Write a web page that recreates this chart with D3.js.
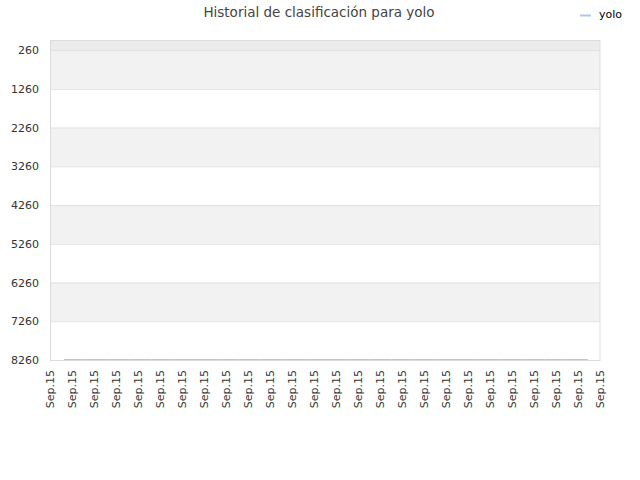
<!DOCTYPE html>
<html><head><meta charset="utf-8">
<script src="https://cdn.jsdelivr.net/npm/d3@7"></script>
<style>body{margin:0;background:#fff}svg{display:block;font-family:"DejaVu Sans",sans-serif}</style>
</head><body>
<script>
const title = "Historial de clasificación para yolo";
const seriesName = "yolo";
const xLabels = Array(26).fill("Sep.15");
const yTicks = [260,1260,2260,3260,4260,5260,6260,7260,8260];
const rankValues = [8235,8235,8235,8235,8235,8235,8235,8235,8235,8235,8235,8235,8235,8235,8235,8235,8235,8235,8235,8235,8235,8235,8235,8235,8235];

const W=640,H=480, L=50,R=600,T=40,B=360;
const svg=d3.select("body").append("svg").attr("width",W).attr("height",H);
const y=d3.scaleLinear().domain([0,8260]).range([T,B]);
const xl=d3.scalePoint().domain(d3.range(xLabels.length)).range([L,R]);
const xd=d3.scaleLinear().domain([0,rankValues.length-1]).range([L+14,R-12]);

// bands
const bands=[[0,260,"#ececec"]];
for(let i=0;i<yTicks.length-1;i++) bands.push([yTicks[i],yTicks[i+1], i%2===0?"#f2f2f2":"#ffffff"]);
svg.selectAll("rect.band").data(bands).enter().append("rect")
 .attr("x",L).attr("width",R-L).attr("y",d=>y(d[0])).attr("height",d=>y(d[1])-y(d[0])).attr("fill",d=>d[2]);
// grid
svg.selectAll("line.g").data(yTicks).enter().append("line")
 .attr("x1",L).attr("x2",R).attr("y1",d=>y(d)+0.5).attr("y2",d=>y(d)+0.5).attr("stroke","#e0e0e0");
// frame
svg.append("rect").attr("x",L+0.5).attr("y",T+0.5).attr("width",R-L-0.5).attr("height",B-T).attr("fill","none").attr("stroke","#dcdcdc");
// y labels
svg.selectAll("text.y").data(yTicks).enter().append("text")
 .attr("x",39).attr("y",d=>y(d)+4).attr("text-anchor","end").attr("font-size",11).attr("fill","#333").text(d=>d);
// x labels
svg.selectAll("text.x").data(xLabels).enter().append("text")
 .attr("transform",(d,i)=>`translate(${xl(i)+4},370) rotate(-90)`).attr("text-anchor","end")
 .attr("font-size",11).attr("fill","#333").text(d=>d);
// line
svg.append("path").datum(rankValues).attr("fill","none").attr("stroke","#a6cbee").attr("stroke-width",1)
 .attr("d",d3.line().x((d,i)=>xd(i)).y(d=>y(d)+0.5));
// title
svg.append("text").attr("x",319).attr("y",17).attr("text-anchor","middle").attr("font-size",13.5).attr("fill","#444").text(title);
// legend
svg.append("line").attr("x1",580).attr("x2",591).attr("y1",15.5).attr("y2",15.5).attr("stroke","#a6cbee").attr("stroke-width",2);
svg.append("text").attr("x",599).attr("y",18).attr("font-size",11).attr("fill","#000").text(seriesName);
</script>
</body></html>
